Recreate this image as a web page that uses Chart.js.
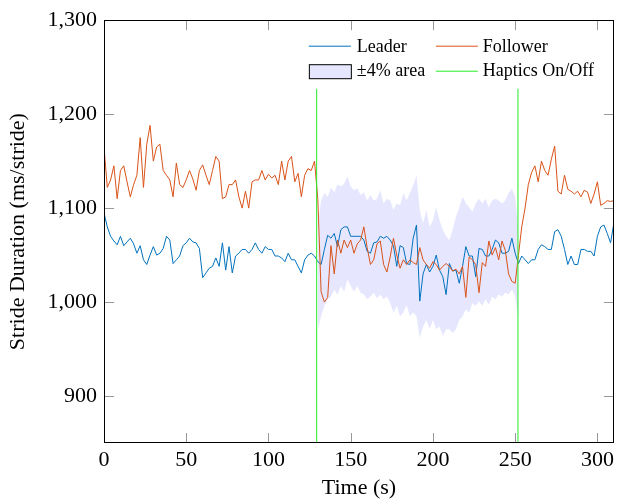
<!DOCTYPE html>
<html>
<head>
<meta charset="utf-8">
<script src="https://cdn.jsdelivr.net/npm/chart.js@4.4.1/dist/chart.umd.min.js"></script>
<style>
  html, body { margin: 0; padding: 0; background: #fff; }
  #wrap { width: 618px; height: 499px; }
</style>
</head>
<body>
<div id="wrap"><canvas id="chart" width="618" height="499"></canvas></div>
<script>
// stride durations, one value every 2 s from t = 0
const sampleStep = 2;
const leader = [
  1095,1080,1070,1065,1061,1070,1060,1064,1068,1062,
  1052,1060,1045,1040,1050,1059,1050,1052,1057,1070,
  1066,1041,1045,1049,1060,1063,1068,1064,1063,1057,
  1026,1031,1036,1038,1047,1038,1063,1034,1059,1031,
  1049,1052,1056,1056,1052,1056,1063,1056,1052,1059,
  1056,1056,1049,1049,1047,1043,1052,1045,1045,1038,
  1031,1045,1050,1052,1049,1043,1040,1056,1071,1068,
  1073,1059,1077,1080,1080,1070,1070,1070,1070,1066,
  1054,1052,1063,1064,1070,1068,1070,1066,1060,1038,
  1060,1058,1041,1040,1068,1082,1001,1030,1040,1032,
  1038,1050,1034,1027,1008,1041,1033,1034,1020,1038,
  1059,1049,1049,1027,1057,1056,1049,1049,1056,1066,
  1063,1052,1052,1054,1068,1052,1041,1049,1045,1041,
  1045,1045,1056,1061,1059,1056,1056,1075,1077,1070,
  1056,1040,1049,1040,1040,1056,1056,1054,1054,1049,
  1070,1080,1082,1073,1063,1084
];
const follower = [
  1165,1122,1130,1145,1110,1140,1145,1128,1112,1125,
  1135,1175,1122,1168,1188,1150,1165,1168,1140,1135,
  1130,1112,1148,1125,1122,1130,1140,1131,1119,1140,
  1146,1135,1125,1140,1155,1150,1110,1112,1125,1125,
  1130,1112,1100,1118,1100,1128,1130,1130,1140,1130,
  1136,1132,1135,1125,1150,1130,1150,1155,1128,1137,
  1112,1135,1142,1140,1150,1110,1011,1000,1005,1060,
  1030,1066,1052,1066,1058,1066,1052,1062,1066,1080,
  1058,1040,1045,1062,1065,1040,1032,1048,1068,1050,
  1036,1045,1040,1045,1042,1040,1058,1045,1040,1036,
  1043,1040,1034,1038,1041,1038,1033,1035,1030,1038,
  1005,1048,1045,1040,1010,1042,1038,1065,1050,1058,
  1045,1065,1055,1030,1022,1020,1050,1080,1100,1125,
  1138,1145,1128,1150,1140,1135,1152,1166,1118,1115,
  1135,1120,1118,1115,1118,1112,1119,1117,1105,1115,
  1128,1103,1105,1108,1107,1108
];

// ±4% area while haptics are on, every 2 s from t = 130
const bandStart = 130;
const bandUpper = [
  1082,1108,1116,1112,1122,1117,1125,1123,1126,1134,
  1123,1119,1121,1114,1117,1108,1114,1108,1110,1119,
  1105,1110,1108,1098,1105,1103,1116,1108,1116,1124,
  1135,1098,1084,1098,1080,1087,1101,1087,1077,1070,
  1066,1077,1091,1101,1112,1105,1101,1096,1105,1110,
  1105,1110,1101,1108,1110,1108,1105,1108,1116,1121,
  1112,1075
];
const bandLower = [
  971,985,996,1003,1006,1013,1008,1017,1011,1024,
  1017,1011,1017,1010,1008,1003,1006,1010,1004,1008,
  1003,1006,999,989,996,985,989,997,985,989,
  985,962,974,981,971,981,971,974,964,971,
  971,967,971,981,985,992,989,999,996,1001,
  996,1003,997,1006,1003,1008,1006,1010,1008,1013,
  1006,981
];

const hapticsTimes = [129.3, 251.7];
const hapticsTop = 1227;

const xTicks = [0, 50, 100, 150, 200, 250, 300];
const yTicks = [900, 1000, 1100, 1200, 1300];

const BLUE = 'rgb(0,114,189)';
const ORANGE = 'rgb(217,83,25)';
const GREEN = 'rgb(40,235,40)';
const LAVENDER = 'rgb(230,230,255)';
const SERIF = '"Liberation Serif", "DejaVu Serif", serif';

const series = (vals, t0) => vals.map((v, i) => ({ x: t0 + i * sampleStep, y: v }));

const lineStyle = (label, color, data, order) => ({
  label, data, order,
  borderColor: color, borderWidth: 1, borderJoinStyle: 'round',
  pointRadius: 0, fill: false, tension: 0
});

const datasets = [
  { label: '±4% area', data: series(bandUpper, bandStart), order: 5,
    borderWidth: 0, pointRadius: 0, backgroundColor: LAVENDER, fill: '+1' },
  { label: 'band low', data: series(bandLower, bandStart), order: 5,
    borderWidth: 0, pointRadius: 0, fill: false },
  lineStyle('Leader', BLUE, series(leader, 0), 2),
  lineStyle('Follower', ORANGE, series(follower, 0), 1)
];
hapticsTimes.forEach(t => {
  datasets.push(lineStyle('Haptics On/Off', GREEN, [{ x: t, y: 850 }, { x: t, y: hapticsTop }], 0));
});

// inner ticks on all four sides and the black frame
const framePlugin = {
  id: 'frame',
  afterDraw(chart) {
    const { ctx, chartArea: a, scales: { x, y } } = chart;
    ctx.save();
    ctx.strokeStyle = '#999';
    ctx.lineWidth = 1;
    ctx.beginPath();
    xTicks.forEach(v => {
      const px = Math.round(x.getPixelForValue(v)) + 0.5;
      ctx.moveTo(px, a.bottom); ctx.lineTo(px, a.bottom - 10);
      ctx.moveTo(px, a.top); ctx.lineTo(px, a.top + 10);
    });
    yTicks.forEach(v => {
      const py = Math.round(y.getPixelForValue(v)) + 0.5;
      ctx.moveTo(a.left, py); ctx.lineTo(a.left + 10, py);
      ctx.moveTo(a.right, py); ctx.lineTo(a.right - 10, py);
    });
    ctx.stroke();
    ctx.strokeStyle = '#000';
    ctx.strokeRect(Math.round(a.left) + 0.5, Math.round(a.top) + 0.5,
      Math.round(a.right - a.left) - 1, Math.round(a.bottom - a.top) - 1);
    ctx.restore();
  }
};

// two-column legend in the top right of the plot
const legendPlugin = {
  id: 'cornerLegend',
  afterDraw(chart) {
    const { ctx, chartArea: a } = chart;
    const c1 = a.right - 305, c2 = a.right - 178;
    const r1 = a.top + 26, r2 = a.top + 51;
    ctx.save();
    ctx.lineWidth = 1;
    const sample = (x0, yy, color) => {
      ctx.strokeStyle = color;
      ctx.beginPath(); ctx.moveTo(x0, yy); ctx.lineTo(x0 + 42, yy); ctx.stroke();
    };
    sample(c1, r1, BLUE);
    sample(c2, r1, ORANGE);
    sample(c2, r2, GREEN);
    ctx.fillStyle = LAVENDER;
    ctx.fillRect(c1 + 0.5, r2 - 6.5, 42, 14);
    ctx.strokeStyle = '#000';
    ctx.strokeRect(c1 + 0.5, r2 - 6.5, 42, 14);
    ctx.fillStyle = '#000';
    ctx.font = '18px ' + SERIF;
    ctx.textBaseline = 'alphabetic';
    ctx.fillText('Leader', c1 + 48, r1 + 6);
    ctx.fillText('Follower', c2 + 47, r1 + 6);
    ctx.fillText('±4% area', c1 + 48, r2 + 5);
    ctx.fillText('Haptics On/Off', c2 + 47, r2 + 5);
    ctx.restore();
  }
};

const tickFont = { family: SERIF, size: 22 };
const titleFont = { family: SERIF, size: 22, lineHeight: 1 };

new Chart('chart', {
  type: 'line',
  data: { datasets },
  options: {
    responsive: false,
    animation: false,
    devicePixelRatio: 1,
    layout: { padding: { top: 19, right: 3, left: 0, bottom: 0 } },
    plugins: { legend: { display: false }, tooltip: { enabled: false } },
    scales: {
      x: {
        type: 'linear', min: 0, max: 310,
        afterBuildTicks: s => { s.ticks = xTicks.map(v => ({ value: v })); },
        afterFit: s => { s.height = 56; },
        grid: { display: false, drawTicks: false },
        border: { display: false },
        ticks: { font: tickFont, color: '#000', padding: 4, maxRotation: 0, callback: v => String(v) },
        title: { display: true, text: 'Time (s)', font: titleFont, color: '#000', padding: { top: 0, bottom: 0 } }
      },
      y: {
        min: 850, max: 1300,
        afterBuildTicks: s => { s.ticks = yTicks.map(v => ({ value: v })); },
        afterFit: s => { s.width = 104; },
        grid: { display: false, drawTicks: false },
        border: { display: false },
        ticks: { font: tickFont, color: '#000', padding: 7, callback: v => v.toLocaleString('en-US') },
        title: { display: true, text: 'Stride Duration (ms/stride)', font: titleFont, color: '#000', padding: { top: 7, bottom: 0 } }
      }
    }
  },
  plugins: [framePlugin, legendPlugin]
});
</script>
</body>
</html>
